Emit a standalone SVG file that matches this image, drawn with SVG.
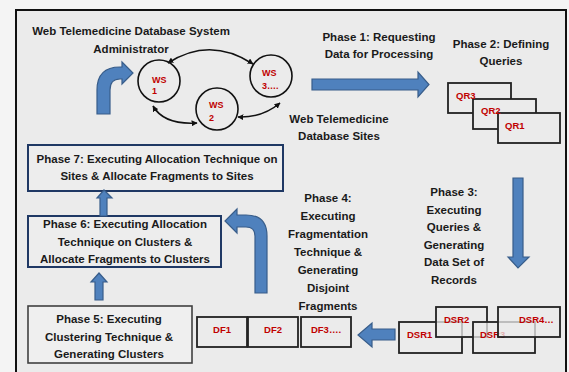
<svg xmlns="http://www.w3.org/2000/svg" width="569" height="372" viewBox="0 0 569 372">
  <style>
    .t { font-family: "Liberation Sans", Arial, sans-serif; font-weight: bold; font-size: 11.5px; fill: #1a1a1a; text-anchor: middle; }
    .r { font-family: "Liberation Sans", Arial, sans-serif; font-weight: bold; font-size: 9.5px; fill: #c00000; }
    .ws { font-size: 9px; }
    .site { fill: none; stroke: #111; stroke-width: 1.6; }
    .card { fill: #ebebeb; stroke: #222; stroke-width: 1.8; }
    .dsr { fill: #ebebeb; fill-opacity: 0.75; stroke: #222; stroke-width: 1.8; }
    .link { fill: none; stroke: #111; stroke-width: 1.6; marker-start: url(#tip); marker-end: url(#tip); }
    .block { fill: #4f81bd; stroke: #385d8a; stroke-width: 1.2; }
    .phase { fill: #ededed; stroke: #1f3864; stroke-width: 2; }
  </style>
  <defs>
    <marker id="tip" viewBox="0 0 10 10" refX="9" refY="5" markerWidth="6" markerHeight="6" orient="auto-start-reverse" markerUnits="userSpaceOnUse">
      <path d="M0,0 L10,5 L0,10 Z" fill="#111"/>
    </marker>
  </defs>

  <!-- page and frame -->
  <rect x="0" y="0" width="569" height="372" fill="#f4f4f4"/>
  <rect x="16" y="10" width="550" height="380" fill="#ebebeb" stroke="#111" stroke-width="2"/>

  <!-- administrator label -->
  <g id="admin">
    <text class="t" x="131" y="35">Web Telemedicine Database System</text>
    <text class="t" x="131" y="53">Administrator</text>
  </g>

  <!-- web sites -->
  <g id="ws1">
    <circle class="site" cx="159" cy="81" r="21"/>
    <text class="r ws" x="152" y="83">WS</text>
    <text class="r ws" x="152" y="94">1</text>
  </g>
  <g id="ws2">
    <circle class="site" cx="217" cy="109" r="21"/>
    <text class="r ws" x="209" y="108">WS</text>
    <text class="r ws" x="209" y="121">2</text>
  </g>
  <g id="ws3">
    <circle class="site" cx="271" cy="76" r="21"/>
    <text class="r ws" x="262" y="76">WS</text>
    <text class="r ws" x="262" y="89">3….</text>
  </g>
  <g id="sites-label">
    <text class="t" x="339" y="123">Web Telemedicine</text>
    <text class="t" x="339" y="140">Database Sites</text>
  </g>

  <!-- phase 1 -->
  <g id="phase1">
    <text class="t" x="379" y="41">Phase 1: Requesting</text>
    <text class="t" x="379" y="58">Data for Processing</text>
  </g>

  <!-- phase 2: queries -->
  <g id="phase2">
    <text class="t" x="501" y="48">Phase 2: Defining</text>
    <text class="t" x="501" y="65">Queries</text>
    <rect class="card" x="448" y="83" width="63" height="30"/>
    <rect class="card" x="473" y="99" width="63" height="30"/>
    <rect class="card" x="498" y="113" width="62" height="30"/>
    <text class="r" x="456" y="99">QR3</text>
    <text class="r" x="481" y="114">QR2</text>
    <text class="r" x="505" y="129">QR1</text>
  </g>

  <!-- phase 3 -->
  <g id="phase3">
    <text class="t" x="454" y="196">Phase 3:</text>
    <text class="t" x="454" y="214">Executing</text>
    <text class="t" x="454" y="231">Queries &amp;</text>
    <text class="t" x="454" y="249">Generating</text>
    <text class="t" x="454" y="266">Data Set of</text>
    <text class="t" x="454" y="284">Records</text>
  </g>

  <!-- data set records -->
  <g id="dsr">
    <rect class="dsr" x="399" y="322" width="63" height="31"/>
    <text class="r" x="407" y="338">DSR1</text>
    <rect class="dsr" x="436" y="307" width="51" height="30"/>
    <text class="r" x="444" y="323">DSR2</text>
    <rect class="dsr" x="473" y="322" width="62" height="31"/>
    <text class="r" x="480" y="338">DSR3</text>
    <rect class="dsr" x="498" y="307" width="62" height="30"/>
    <text class="r" x="519" y="323">DSR4…</text>
  </g>

  <!-- phase 4 -->
  <g id="phase4">
    <text class="t" x="328" y="202">Phase 4:</text>
    <text class="t" x="328" y="220">Executing</text>
    <text class="t" x="328" y="238">Fragmentation</text>
    <text class="t" x="328" y="256">Technique &amp;</text>
    <text class="t" x="328" y="274">Generating</text>
    <text class="t" x="328" y="292">Disjoint</text>
    <text class="t" x="328" y="310">Fragments</text>
  </g>

  <!-- disjoint fragments -->
  <g id="fragments">
    <rect class="card" x="197" y="317" width="50" height="30"/>
    <rect class="card" x="248" y="317" width="50" height="30"/>
    <rect class="card" x="301" y="317" width="50" height="30"/>
    <text class="r" x="222" y="333" text-anchor="middle">DF1</text>
    <text class="r" x="273" y="333" text-anchor="middle">DF2</text>
    <text class="r" x="326" y="333" text-anchor="middle">DF3….</text>
  </g>

  <!-- phase 5 -->
  <g id="phase5">
    <rect x="28" y="306" width="164" height="57" fill="#efefef" stroke="#404040" stroke-width="1.6"/>
    <text class="t" x="109" y="323">Phase 5: Executing</text>
    <text class="t" x="109" y="341">Clustering Technique &amp;</text>
    <text class="t" x="109" y="358">Generating Clusters</text>
  </g>

  <!-- phase 6 -->
  <g id="phase6">
    <rect class="phase" x="28" y="216" width="193" height="51"/>
    <text class="t" x="125" y="228">Phase 6: Executing Allocation</text>
    <text class="t" x="125" y="246">Technique on Clusters &amp;</text>
    <text class="t" x="125" y="263">Allocate Fragments to Clusters</text>
  </g>

  <!-- phase 7 -->
  <g id="phase7">
    <rect class="phase" x="28" y="145" width="255" height="46"/>
    <text class="t" x="157" y="163">Phase 7: Executing Allocation Technique on</text>
    <text class="t" x="157" y="180">Sites &amp; Allocate Fragments to Sites</text>
  </g>

  <!-- connectors -->
  <g id="connectors">
    <path class="link" d="M168,63 Q210,36 253,64"/>
    <path class="link" d="M153,106 Q164,125 197,123"/>
    <path class="link" d="M238,117 Q262,118 280,103"/>

    <!-- administrator to sites -->
    <path class="block" d="M97,114 L97,90 Q97,67 120,67 L122,67 L122,62 L133,73 L122,84 L122,79 L120,79 Q110,79 110,90 L110,114 Z"/>
    <!-- phase 1 -->
    <path class="block" d="M312,79 L418,79 L418,72 L429,84.5 L418,97 L418,90 L312,90 Z"/>
    <!-- phase 3 -->
    <path class="block" d="M513,178 L523,178 L523,257 L529,257 L518,268 L508,257 L513,257 Z"/>
    <!-- records to fragments -->
    <path class="block" d="M395,329 L372,329 L372,323 L358,335 L372,347 L372,340 L395,340 Z"/>
    <!-- fragments to clustering (phase 4) -->
    <path class="block" d="M255,293 L255,236 Q255,227 246,227 L237,227 L237,233 L225,221 L237,209 L237,215 L246,215 Q267,215 267,236 L267,293 Z"/>
    <!-- phase 5 to phase 6 -->
    <path class="block" d="M95,300 L95,282 L91,282 L99,273 L107,282 L103,282 L103,300 Z"/>
    <!-- phase 6 to phase 7 -->
    <path class="block" d="M100,216 L100,198 L97,198 L104,190 L112,198 L107,198 L107,216 Z"/>
  </g>
</svg>
